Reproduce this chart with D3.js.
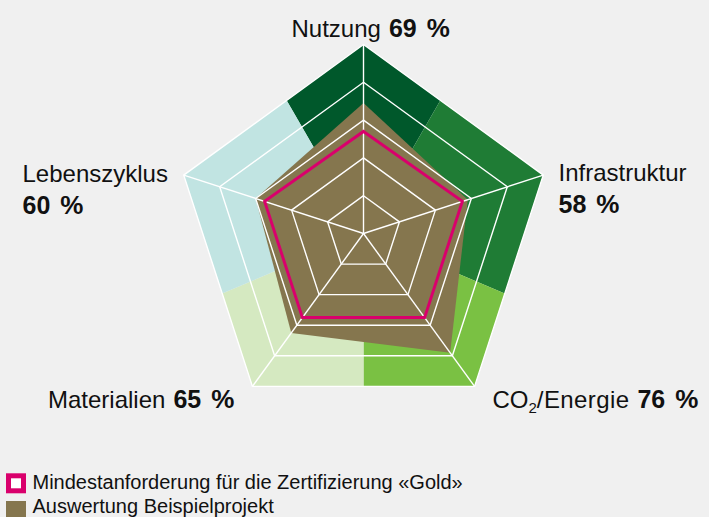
<!DOCTYPE html>
<html>
<head>
<meta charset="utf-8">
<script src="https://cdn.jsdelivr.net/npm/d3@7"></script>
<style>
  html, body { margin: 0; padding: 0; background: #f0f0f0; }
  svg { display: block; font-family: "Liberation Sans", Arial, Helvetica, sans-serif; }
</style>
</head>
<body>
<svg id="chart" width="709" height="517"></svg>
<script>
// ---- data ----
const axes = ["Nutzung", "Infrastruktur", "CO2/Energie", "Materialien", "Lebenszyklus"];
const labelPercents = [69, 58, 76, 65, 60];
const projectScores = [69, 58, 78, 65, 60];
const goldMinimum = [54, 55, 55, 55, 55];
const gridLevels = [20, 40, 60, 80, 100];
const legendItems = ["Mindestanforderung für die Zertifizierung «Gold»", "Auswertung Beispielprojekt"];

// ---- layout / style ----
const W = 709, H = 517;
const cx = 363.5, cy = 233.5, R = 189;
const sectorColors = ["#00582b", "#1f7c35", "#7ac143", "#d5e9c1", "#c1e4e2"];
// sector boundaries (d3 angle in degrees, 0 = up, clockwise)
const sectorEdges = [[-30, 30], [30, 113], [113, 180], [180, 247], [247, 330]];
const brown = "#85764e", magenta = "#d9006c";

const svg = d3.select("#chart");
svg.append("rect").attr("width", W).attr("height", H).attr("fill", "#f0f0f0");

const g = svg.append("g").attr("transform", `translate(${cx},${cy})`);

const angle = d3.scaleLinear().domain([0, axes.length]).range([0, 2 * Math.PI]);
const r = d3.scaleLinear().domain([0, 100]).range([0, R]);

const radial = d3.lineRadial()
  .angle((d, i) => angle(i))
  .radius(d => r(d))
  .curve(d3.curveLinearClosed);

// clip to outer pentagon
svg.append("defs").append("clipPath").attr("id", "pent")
  .append("path").attr("d", radial(axes.map(() => 100)));

const bg = g.append("g").attr("clip-path", "url(#pent)");
const arc = d3.arc().innerRadius(0).outerRadius(R * 1.5);
bg.selectAll("path.sector").data(sectorEdges).join("path")
  .attr("class", "sector")
  .attr("d", d => arc({ startAngle: d[0] * Math.PI / 180, endAngle: d[1] * Math.PI / 180 }))
  .attr("fill", (d, i) => sectorColors[i]);

// project area
g.append("path").attr("d", radial(projectScores)).attr("fill", brown);

// grid rings
g.selectAll("path.ring").data(gridLevels).join("path")
  .attr("class", "ring")
  .attr("d", lv => radial(axes.map(() => lv)))
  .attr("fill", "none").attr("stroke", "#fff").attr("stroke-width", 1.4);

// spokes
g.selectAll("line.spoke").data(axes).join("line")
  .attr("class", "spoke")
  .attr("x1", 0).attr("y1", 0)
  .attr("x2", (d, i) => r(100) * Math.sin(angle(i)))
  .attr("y2", (d, i) => -r(100) * Math.cos(angle(i)))
  .attr("stroke", "#fff").attr("stroke-width", 1.4);

// gold minimum
g.append("path").attr("d", radial(goldMinimum))
  .attr("fill", "none").attr("stroke", magenta).attr("stroke-width", 3)
  .attr("stroke-linejoin", "miter");

// ---- axis labels ----
const labelLayout = [
  { x: 291.5, y: 36.5, twoLines: false },
  { x: 558.5, y: 181, twoLines: true },
  { x: 492.5, y: 407.5, twoLines: false },
  { x: 48, y: 407.5, twoLines: false },
  { x: 22.5, y: 181.5, twoLines: true }
];

axes.forEach((name, i) => {
  const L = labelLayout[i];
  const t = svg.append("text").attr("x", L.x).attr("y", L.y)
    .attr("font-size", 24).attr("fill", "#111");
  if (name.startsWith("CO2")) {
    t.append("tspan").text("CO");
    t.append("tspan").attr("font-size", 15).attr("dy", 5).text("2");
    t.append("tspan").attr("dy", -5).attr("letter-spacing", 0.4).text("/Energie");
  } else {
    t.append("tspan").text(name);
  }
  let v;
  if (L.twoLines) {
    v = svg.append("text").attr("x", L.x).attr("y", L.y + 32)
      .attr("font-size", 25).attr("fill", "#111").attr("font-weight", "bold");
    v.append("tspan").text(labelPercents[i]);
  } else {
    v = t;
    v.append("tspan").attr("font-weight", "bold").attr("font-size", 25).attr("dx", 8).text(labelPercents[i]);
  }
  v.append("tspan").attr("font-weight", "bold").attr("dx", 10).attr("font-size", 26).text("%");
});

// ---- legend ----
const legend = svg.append("g");
legend.append("rect").attr("x", 8.5).attr("y", 475.8).attr("width", 15).attr("height", 15)
  .attr("fill", "#fff").attr("stroke", magenta).attr("stroke-width", 5);
legend.append("rect").attr("x", 6).attr("y", 501).attr("width", 20).attr("height", 20)
  .attr("fill", brown);
legend.selectAll("text").data(legendItems).join("text")
  .attr("x", 32.5).attr("y", (d, i) => 489.3 + i * 24)
  .attr("font-size", 20).attr("fill", "#111")
  .text(d => d);
</script>
</body>
</html>
